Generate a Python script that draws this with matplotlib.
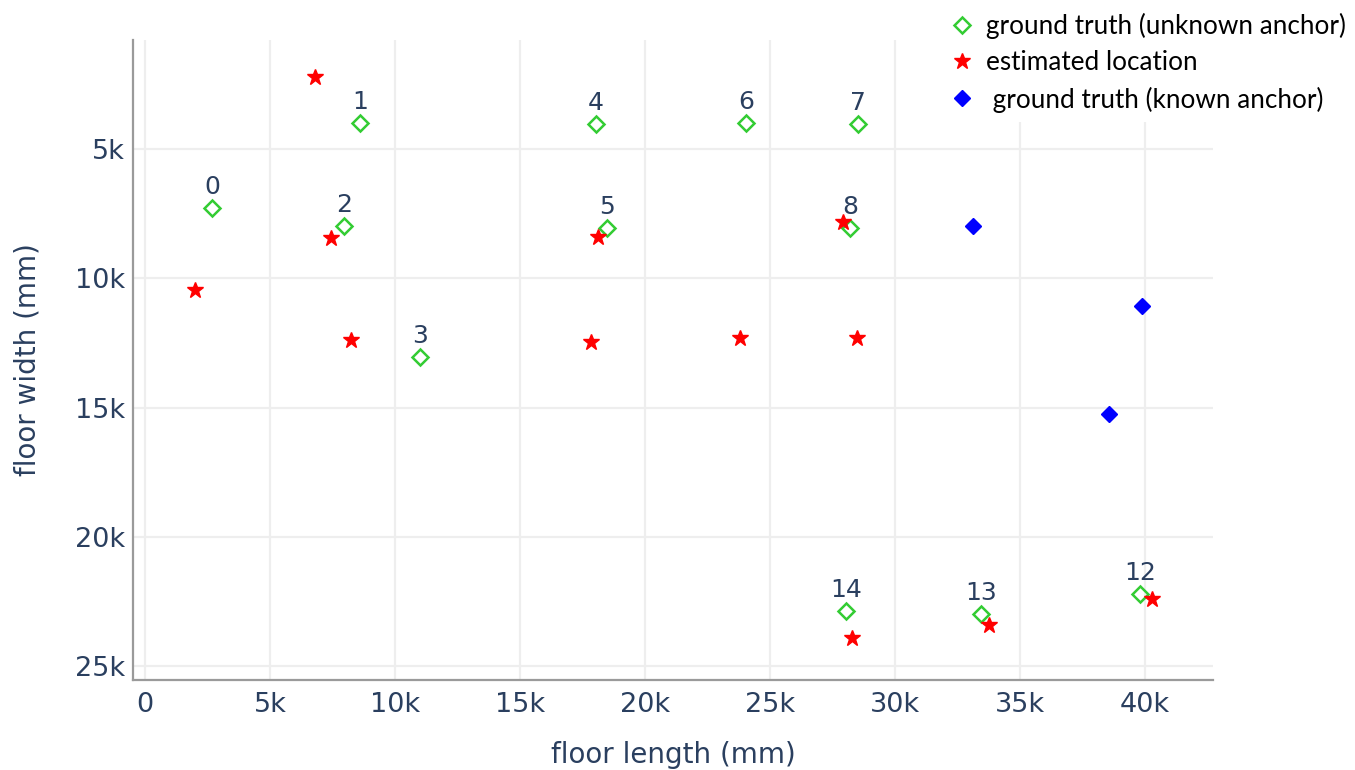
import matplotlib.pyplot as plt
from matplotlib.ticker import FuncFormatter, MultipleLocator

# anchors with unknown position: ground truth (mm)
unknown_ids = [0, 1, 2, 3, 4, 5, 6, 7, 8, 12, 13, 14]
unknown_x = [2680, 8600, 7960, 11000, 18040, 18480, 24040, 28520, 28200, 39800, 33440, 28040]
unknown_y = [7280, 3990, 7980, 13050, 4030, 8050, 3990, 4030, 8050, 22210, 22990, 22870]

# estimated locations
est_x = [6800, 7440, 2000, 8240, 18120, 17840, 23800, 27920, 28480, 28280, 33760, 40280]
est_y = [2220, 8440, 10450, 12390, 8400, 12460, 12310, 7820, 12310, 23910, 23410, 22410]

# anchors with known position
known_x = [33120, 39880, 38560]
known_y = [7980, 11070, 15250]

txt = '#2a3f5f'

fig = plt.figure(figsize=(13.55, 7.7), dpi=100)
ax = fig.add_axes([0.0982, 0.1169, 0.797, 0.8311])

h1, = ax.plot(unknown_x, unknown_y, 'D', ms=8.3, mfc='none', mec='#33cc33', mew=1.8,
              ls='none', label='ground truth (unknown anchor)', zorder=3)
h2, = ax.plot(est_x, est_y, '*', ms=12, color='red', ls='none',
              label='estimated location', zorder=4)
h3, = ax.plot(known_x, known_y, 'D', ms=8, color='blue', ls='none',
              label=' ground truth (known anchor)', zorder=3)

for i, x, y in zip(unknown_ids, unknown_x, unknown_y):
    ax.annotate(str(i), (x, y), xytext=(0, 10), textcoords='offset points',
                ha='center', va='baseline', fontsize=18, color=txt)

ax.set_xlim(-480, 42720)
ax.set_ylim(25540, 780)

ax.xaxis.set_major_locator(MultipleLocator(5000))
ax.yaxis.set_major_locator(MultipleLocator(5000))
fmt = FuncFormatter(lambda v, p: '0' if v == 0 else f'{v/1000:g}k')
ax.xaxis.set_major_formatter(fmt)
ax.yaxis.set_major_formatter(fmt)
ax.set_yticks([5000, 10000, 15000, 20000, 25000])

ax.grid(True, color='#eeeeee', lw=1.6)
ax.set_axisbelow(True)
ax.tick_params(length=0, labelsize=19.5, labelcolor=txt)
ax.tick_params(axis='x', pad=9)
ax.tick_params(axis='y', pad=6)
for s in ['top', 'right']:
    ax.spines[s].set_visible(False)
for s in ['left', 'bottom']:
    ax.spines[s].set_color('#9a9a9a')
    ax.spines[s].set_linewidth(1.6)

ax.set_xlabel('floor length (mm)', fontsize=20, color=txt, labelpad=16)
ax.set_ylabel('floor width (mm)', fontsize=20, color=txt, labelpad=24)

leg = fig.legend(handles=[h1, h2, h3], loc='upper left',
                 bbox_to_anchor=(0.684, 1.012), frameon=True, fancybox=False,
                 prop={'family': 'Lato', 'size': 18.8}, handlelength=1.0,
                 handletextpad=0.4, labelspacing=0.43, borderpad=0.35)
leg.get_frame().set_facecolor('white')
leg.get_frame().set_edgecolor('none')
leg.get_frame().set_alpha(1)

fig.savefig('out.png', dpi=100, facecolor='white')
